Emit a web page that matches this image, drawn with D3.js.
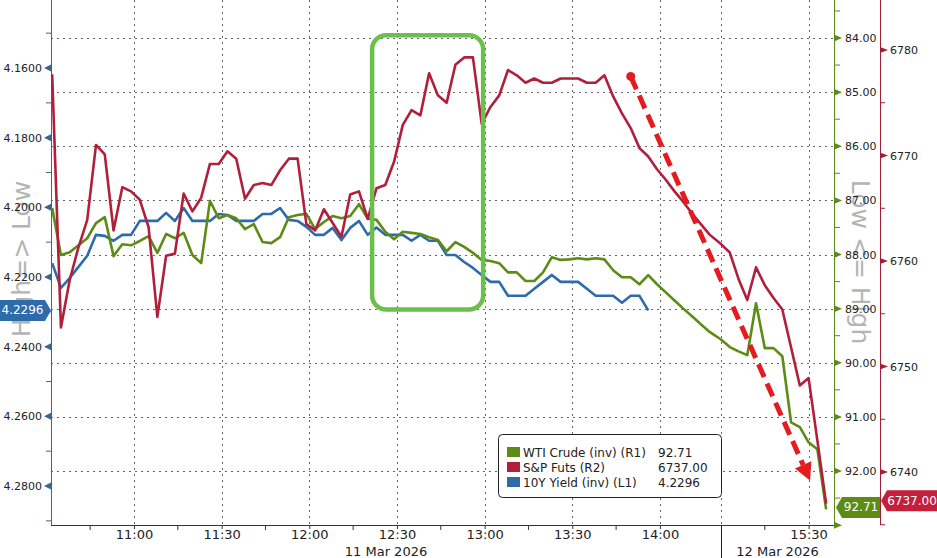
<!DOCTYPE html>
<html>
<head>
<meta charset="utf-8">
<script src="https://cdn.jsdelivr.net/npm/d3@7"></script>
<style>
  body { margin: 0; background: #fff; }
  svg { display: block; }
  text { font-family: "DejaVu Sans", sans-serif; }
</style>
</head>
<body>
<svg id="chart" width="937" height="558"></svg>
<script>
// 3-minute bars: 11 Mar from 10:32, 12 Mar from 15:00
const day1Open = "2026-03-11 10:32:00";
const day2Open = "2026-03-12 15:00:00";
const day1Bars = 76;
const day2Bars = 13;

// S&P futures (R2)
const spx = [
  6777.7, 6753.7, 6758.2, 6761.3, 6763.9, 6771.0, 6770.1, 6762.9, 6767.0, 6766.6,
  6765.8, 6763.2, 6754.7, 6760.5, 6760.7, 6766.4, 6764.7, 6766.0, 6769.2, 6769.2,
  6770.4, 6769.7, 6765.9, 6767.2, 6767.4, 6767.2, 6768.6, 6769.7, 6769.7, 6763.5,
  6762.9, 6764.9, 6763.6, 6762.3, 6766.3, 6766.6, 6764.0, 6766.9, 6767.2, 6769.4,
  6772.9, 6774.3, 6773.8, 6777.8, 6775.7, 6775.0, 6778.6, 6779.3, 6779.3, 6773.0,
  6774.6, 6775.7, 6778.1, 6777.6, 6776.9, 6777.3, 6776.9, 6776.9, 6777.3, 6777.3,
  6777.3, 6776.9, 6776.9, 6777.6, 6775.6, 6774.0, 6772.6, 6770.7, 6769.9, 6768.7,
  6767.7, 6766.6, 6765.6, 6764.5, 6763.5, 6762.5,
  6761.6, 6760.8, 6758.3, 6756.3, 6759.4, 6757.7, 6756.5, 6755.4, 6751.8, 6748.2,
  6748.9, 6743.0, 6737.0
];

// WTI crude, inverted (R1)
const wti = [
  87.14, 88.01, 87.96, 87.83, 87.70, 87.42, 87.31, 88.03, 87.81, 87.83,
  87.75, 87.66, 87.97, 87.62, 87.70, 87.60, 88.01, 88.16, 87.01, 87.33,
  87.27, 87.33, 87.53, 87.44, 87.77, 87.79, 87.68, 87.31, 87.27, 87.25,
  87.53, 87.40, 87.29, 87.33, 87.29, 87.07, 87.34, 87.36, 87.58, 87.72,
  87.58, 87.60, 87.62, 87.68, 87.73, 87.94, 87.77, 87.86, 87.97, 88.10,
  88.12, 88.16, 88.33, 88.33, 88.49, 88.49, 88.33, 88.05, 88.10, 88.09,
  88.07, 88.09, 88.07, 88.09, 88.29, 88.42, 88.42, 88.55, 88.38, 88.55,
  88.70, 88.85, 89.00, 89.14, 89.29, 89.43,
  89.57, 89.71, 89.79, 89.86, 88.90, 89.73, 89.73, 89.88, 91.10, 91.19,
  91.47, 91.60, 92.71
];

// 10Y yield, inverted (L1), stops at 13:56
const ust10 = [
  4.2160, 4.2231, 4.2203, 4.2171, 4.2139, 4.2079, 4.2082, 4.2096, 4.2079, 4.2079,
  4.2039, 4.2039, 4.2039, 4.2016, 4.2039, 4.2002, 4.2039, 4.2039, 4.2039, 4.2019,
  4.2022, 4.2039, 4.2039, 4.2039, 4.2019, 4.2019, 4.2002, 4.2036, 4.2039, 4.2056,
  4.2079, 4.2079, 4.2059, 4.2094, 4.2059, 4.2039, 4.2079, 4.2058, 4.2079, 4.2079,
  4.2079, 4.2096, 4.2079, 4.2096, 4.2096, 4.2137, 4.2137, 4.2157, 4.2174, 4.2194,
  4.2214, 4.2214, 4.2254, 4.2254, 4.2254, 4.2234, 4.2214, 4.2194, 4.2214, 4.2214,
  4.2214, 4.2234, 4.2254, 4.2254, 4.2254, 4.2274, 4.2254, 4.2254, 4.2296
];

const yieldTicks = [4.16, 4.18, 4.20, 4.22, 4.24, 4.26, 4.28];
const yieldMinor = [4.15, 4.17, 4.19, 4.21, 4.23, 4.25, 4.27, 4.29];
const wtiTicks = [84, 85, 86, 87, 88, 89, 90, 91, 92];
const wtiMinor = [83.5, 84.5, 85.5, 86.5, 87.5, 88.5, 89.5, 90.5, 91.5, 92.5];
const wtiGrid = [84, 85, 86, 87, 88, 89, 90, 91, 92, 93];
const spxTicks = [6780, 6770, 6760, 6750, 6740];
const spxMinor = [6775, 6765, 6755, 6745, 6735];

const timeTicks = ["2026-03-11 11:00:00", "2026-03-11 11:30:00", "2026-03-11 12:00:00",
  "2026-03-11 12:30:00", "2026-03-11 13:00:00", "2026-03-11 13:30:00",
  "2026-03-11 14:00:00", "2026-03-12 15:30:00"];
const timeMinor = ["2026-03-11 10:45:00", "2026-03-11 11:15:00", "2026-03-11 11:45:00",
  "2026-03-11 12:15:00", "2026-03-11 12:45:00", "2026-03-11 13:15:00",
  "2026-03-11 13:45:00", "2026-03-12 15:15:00"];
// visible span of each session (day break is compressed)
const xEdges = ["2026-03-11 10:31:36", "2026-03-11 14:20:54", "2026-03-12 15:00:00", "2026-03-12 15:38:42"];
const dayLabels = ["11 Mar 2026", "12 Mar 2026"];

// annotations: green box around the 12:20-13:00 jump, red dashed arrow
const boxSpan = ["2026-03-11 12:21:30", "2026-03-11 12:59:30"];
const boxSpx = [6781.4, 6755.4];
const arrowFrom = {t: "2026-03-11 13:50:00", v: 6777.5};
const arrowTo = {t: "2026-03-12 15:30:30", v: 6739.2};

const C = {
  spx: "#b01f3b", wti: "#5d8c14", ust: "#2d6bab",
  spxAxis: "#a31d36", wtiAxis: "#5b8a18", ustAxis: "#3a6690",
  grid: "#666", box: "#6bbf4c", arrow: "#e41b1f", title: "#b4b4b4"
};

const parse = d3.timeParse("%Y-%m-%d %H:%M:%S");
const svg = d3.select("#chart");
const left = 51, right = 834, bottom = 525, sepX = 721, r2X = 880;

const times = d3.range(day1Bars).map(i => d3.timeMinute.offset(parse(day1Open), 3 * i))
  .concat(d3.range(day2Bars).map(i => d3.timeMinute.offset(parse(day2Open), 3 * i)));

const x = d3.scaleTime().domain(xEdges.map(parse)).range([left, sepX, sepX, right]);
const yL = d3.scaleLinear().domain([4.16, 4.28]).range([68, 486]);
const yR1 = d3.scaleLinear().domain([84, 92]).range([38, 471]);
const yR2 = d3.scaleLinear().domain([6780, 6740]).range([50, 472]);

// grid
const grid = svg.append("g").attr("stroke", C.grid).attr("stroke-dasharray", "2,4").attr("stroke-width", 1);
grid.selectAll("line.h").data(wtiGrid).join("line").attr("class", "h")
  .attr("x1", left).attr("x2", right)
  .attr("y1", d => Math.round(yR1(d)) + 0.5).attr("y2", d => Math.round(yR1(d)) + 0.5);
grid.selectAll("line.v").data(timeTicks.map(parse).concat([parse(xEdges[2])])).join("line").attr("class", "v")
  .attr("x1", d => Math.round(x(d)) + 0.5).attr("x2", d => Math.round(x(d)) + 0.5)
  .attr("y1", 0).attr("y2", bottom);

// axis titles
svg.append("text").attr("transform", "translate(21,259) rotate(-90)")
  .attr("text-anchor", "middle").attr("dominant-baseline", "central")
  .attr("font-family", "'Open Sans', sans-serif").attr("font-size", 25).attr("fill", C.title)
  .text("High=> Low");
svg.append("text").attr("transform", "translate(860,262) rotate(90)")
  .attr("text-anchor", "middle").attr("dominant-baseline", "central")
  .attr("font-family", "'Open Sans', sans-serif").attr("font-size", 25).attr("fill", C.title)
  .text("Low <= High");

// left axis (10Y)
const gL = svg.append("g").attr("transform", `translate(${left},0)`)
  .call(d3.axisLeft(yL).tickValues(yieldTicks).tickFormat(d3.format(".4f")).tickSize(0).tickPadding(9));
gL.select(".domain").remove();
gL.selectAll("text").attr("font-size", 11).attr("fill", "#222").attr("font-family", "DejaVu Sans");
gL.append("line").attr("x1", 0.5).attr("x2", 0.5).attr("y1", 0).attr("y2", bottom).attr("stroke", C.ustAxis);
gL.selectAll("path.tri").data(yieldTicks).join("path").attr("class", "tri")
  .attr("d", d => `M0,${yL(d) - 3.5}L-7,${yL(d)}L0,${yL(d) + 3.5}Z`).attr("fill", C.ustAxis);
gL.selectAll("line.minor").data(yieldMinor).join("line").attr("class", "minor")
  .attr("x1", -5).attr("x2", 0).attr("y1", d => yL(d)).attr("y2", d => yL(d)).attr("stroke", C.ustAxis);

// right axis 1 (WTI)
const gR1 = svg.append("g").attr("transform", `translate(${right},0)`)
  .call(d3.axisRight(yR1).tickValues(wtiTicks).tickFormat(d3.format(".2f")).tickSize(0).tickPadding(11));
gR1.select(".domain").remove();
gR1.selectAll("text").attr("font-size", 11).attr("fill", "#222").attr("font-family", "DejaVu Sans");
gR1.append("line").attr("x1", 0.5).attr("x2", 0.5).attr("y1", 0).attr("y2", bottom).attr("stroke", C.wtiAxis);
gR1.selectAll("path.tri").data(wtiTicks.concat([93])).join("path").attr("class", "tri")
  .attr("d", d => `M0,${yR1(d) - 3.5}L8,${yR1(d)}L0,${yR1(d) + 3.5}Z`).attr("fill", C.wtiAxis);
gR1.selectAll("line.minor").data(wtiMinor).join("line").attr("class", "minor")
  .attr("x1", 0).attr("x2", 6).attr("y1", d => yR1(d)).attr("y2", d => yR1(d)).attr("stroke", C.wtiAxis);

// right axis 2 (S&P)
const gR2 = svg.append("g").attr("transform", `translate(${r2X},0)`)
  .call(d3.axisRight(yR2).tickValues(spxTicks).tickFormat(d3.format("d")).tickSize(0).tickPadding(10));
gR2.select(".domain").remove();
gR2.selectAll("text").attr("font-size", 11).attr("fill", "#222").attr("font-family", "DejaVu Sans");
gR2.append("line").attr("x1", 0.5).attr("x2", 0.5).attr("y1", 0).attr("y2", bottom).attr("stroke", C.spxAxis);
gR2.selectAll("path.tri").data(spxTicks).join("path").attr("class", "tri")
  .attr("d", d => `M0,${yR2(d) - 3}L8,${yR2(d)}L0,${yR2(d) + 3}Z`).attr("fill", C.spxAxis);
gR2.selectAll("line.minor").data(spxMinor).join("line").attr("class", "minor")
  .attr("x1", 0).attr("x2", 5).attr("y1", d => yR2(d)).attr("y2", d => yR2(d)).attr("stroke", C.spxAxis);

// bottom axis
const xFont = "'Liberation Sans Narrow', 'DejaVu Sans Condensed', sans-serif";
const gX = svg.append("g").attr("transform", `translate(0,${bottom})`)
  .call(d3.axisBottom(x).tickValues(timeTicks.map(parse)).tickFormat(d3.timeFormat("%H:%M")).tickSize(4).tickPadding(1));
gX.select(".domain").remove();
gX.selectAll("text").attr("font-size", 13).attr("fill", "#222").attr("font-family", xFont);
gX.selectAll(".tick line").attr("stroke", "#333");
gX.append("line").attr("x1", left).attr("x2", right).attr("y1", 0.5).attr("y2", 0.5).attr("stroke", "#333");
gX.selectAll("line.minor").data(timeMinor.map(parse)).join("line").attr("class", "minor")
  .attr("x1", d => x(d)).attr("x2", d => x(d)).attr("y1", 0).attr("y2", 5).attr("stroke", "#333");
svg.append("line").attr("x1", sepX + 0.5).attr("x2", sepX + 0.5).attr("y1", bottom).attr("y2", 558).attr("stroke", "#222");
svg.selectAll("text.day").data(dayLabels).join("text").attr("class", "day")
  .attr("x", (d, i) => i === 0 ? (left + sepX) / 2 : (sepX + right) / 2)
  .attr("y", 556).attr("text-anchor", "middle")
  .attr("font-size", 13).attr("fill", "#222").attr("font-family", xFont).text(d => d);

// series
const series = [
  {name: "10Y", vals: ust10, y: yL, color: C.ust},
  {name: "WTI", vals: wti, y: yR1, color: C.wti},
  {name: "SPX", vals: spx, y: yR2, color: C.spx}
];
series.forEach(s => {
  const line = d3.line().x((d, i) => x(times[i])).y(d => s.y(d));
  svg.append("path").datum(s.vals).attr("d", line)
    .attr("fill", "none").attr("stroke", s.color).attr("stroke-width", 2.6)
    .attr("stroke-linejoin", "round");
});

// green box
const bx0 = x(parse(boxSpan[0])), bx1 = x(parse(boxSpan[1]));
const by0 = yR2(boxSpx[0]), by1 = yR2(boxSpx[1]);
svg.append("rect").attr("x", bx0).attr("y", by0).attr("width", bx1 - bx0).attr("height", by1 - by0)
  .attr("rx", 14).attr("fill", "none").attr("stroke", C.box).attr("stroke-width", 4.5);

// red dashed arrow
const p0 = [x(parse(arrowFrom.t)), yR2(arrowFrom.v)];
const p1 = [x(parse(arrowTo.t)), yR2(arrowTo.v)];
const ang = Math.atan2(p1[1] - p0[1], p1[0] - p0[0]);
const headL = 17, headW = 9;
const pb = [p1[0] - headL * Math.cos(ang), p1[1] - headL * Math.sin(ang)];
svg.append("line").attr("x1", p0[0]).attr("y1", p0[1]).attr("x2", pb[0]).attr("y2", pb[1])
  .attr("stroke", C.arrow).attr("stroke-width", 5).attr("stroke-dasharray", "14,7");
svg.append("circle").attr("cx", p0[0]).attr("cy", p0[1]).attr("r", 4.5).attr("fill", C.arrow);
svg.append("path").attr("fill", C.arrow).attr("d",
  `M${p1[0]},${p1[1]}L${pb[0] + headW * Math.sin(ang)},${pb[1] - headW * Math.cos(ang)}` +
  `L${pb[0] - headW * Math.sin(ang)},${pb[1] + headW * Math.cos(ang)}Z`);

// legend
const legend = [
  {label: "WTI Crude (inv) (R1)", value: d3.format(".2f")(wti[wti.length - 1]), color: C.wti},
  {label: "S&P Futs (R2)", value: d3.format(".2f")(spx[spx.length - 1]), color: C.spx},
  {label: "10Y Yield (inv) (L1)", value: d3.format(".4f")(ust10[ust10.length - 1]), color: C.ust}
];
const gLeg = svg.append("g").attr("transform", "translate(498,434)");
gLeg.append("rect").attr("x", 0.5).attr("y", 0.5).attr("width", 223).attr("height", 63).attr("rx", 4)
  .attr("fill", "#fff").attr("stroke", "#222");
const li = gLeg.selectAll("g").data(legend).join("g").attr("transform", (d, i) => `translate(0,${13 + i * 15})`);
li.append("rect").attr("x", 9).attr("y", 0).attr("width", 13).attr("height", 10).attr("fill", d => d.color);
li.append("text").attr("x", 25).attr("y", 10).attr("font-size", 12).attr("fill", "#222").text(d => d.label);
li.append("text").attr("x", 160).attr("y", 10).attr("font-size", 12).attr("fill", "#222").text(d => d.value);

// last-value badges
function badge(xTip, yc, w, dir, fill, label) {
  const h = 21, a = 6;
  const xb = xTip + dir * a, xe = xTip + dir * (a + w);
  svg.append("path").attr("fill", fill)
    .attr("d", `M${xTip},${yc}L${xb},${yc - h / 2}L${xe},${yc - h / 2}L${xe},${yc + h / 2}L${xb},${yc + h / 2}Z`);
  svg.append("text").attr("x", (xb + xe) / 2).attr("y", yc).attr("dominant-baseline", "central")
    .attr("text-anchor", "middle").attr("font-size", 12).attr("fill", "#fff")
    .attr("font-family", "'DejaVu Sans Condensed', 'DejaVu Sans', sans-serif").text(label);
}
badge(left, yL(ust10[ust10.length - 1]), 45, -1, C.ust, legend[2].value);
badge(right + 2, yR1(wti[wti.length - 1]) - 2, 38, 1, C.wti, legend[0].value);
badge(r2X + 1, yR2(spx[spx.length - 1]) - 3, 50, 1, "#c41f3d", legend[1].value);
</script>
</body>
</html>
